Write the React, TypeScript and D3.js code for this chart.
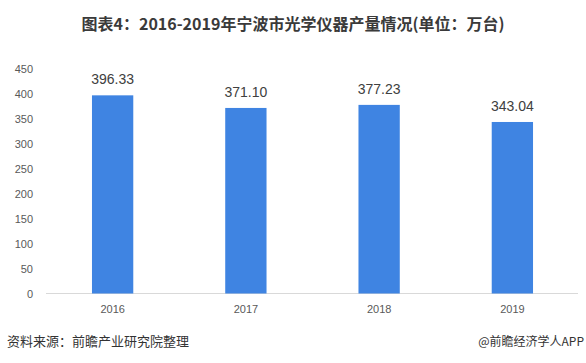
import React, { useEffect, useRef } from "react";
import * as d3 from "d3";

const years = ["2016", "2017", "2018", "2019"];
const output = [396.33, 371.1, 377.23, 343.04];
const yTicks = [0, 50, 100, 150, 200, 250, 300, 350, 400, 450];

const title = "图表4：2016-2019年宁波市光学仪器产量情况(单位：万台)";
const source = "资料来源：前瞻产业研究院整理";
const brand = "@前瞻经济学人APP";

const W = 586;
const H = 363;

const App = () => {
  const svgRef = useRef<SVGSVGElement>(null);

  useEffect(() => {
    const svg = d3.select(svgRef.current);
    svg.selectAll("*").remove();

    const font = "'Liberation Sans', 'Noto Sans CJK SC', sans-serif";

    const x = d3.scaleBand<string>()
      .domain(years)
      .range([46, 579])
      .paddingInner(0.69)
      .paddingOuter(0.345);

    const y = d3.scaleLinear().domain([0, 450]).range([293.5, 68.5]);

    // title
    svg.append("text")
      .attr("x", W / 2)
      .attr("y", 30)
      .attr("text-anchor", "middle")
      .attr("font-family", "'Noto Sans CJK SC', sans-serif")
      .attr("font-weight", "bold")
      .attr("font-size", 16)
      .attr("fill", "#3a3a3a")
      .text(title);

    // y axis labels
    const yAxis = svg.append("g")
      .attr("transform", "translate(33,0)")
      .call(d3.axisLeft(y).tickValues(yTicks).tickSize(0).tickPadding(0));
    yAxis.select(".domain").remove();
    yAxis.selectAll("text")
      .attr("font-family", font)
      .attr("font-size", 11)
      .attr("fill", "#595959");

    // baseline
    svg.append("line")
      .attr("x1", 46)
      .attr("x2", 578)
      .attr("y1", y(0))
      .attr("y2", y(0))
      .attr("stroke", "#d9d9d9")
      .attr("stroke-width", 1);

    // x axis labels
    const xAxis = svg.append("g")
      .attr("transform", `translate(0,${y(0)})`)
      .call(d3.axisBottom(x).tickSize(0).tickPadding(12));
    xAxis.select(".domain").remove();
    xAxis.selectAll("text")
      .attr("font-family", font)
      .attr("font-size", 11)
      .attr("fill", "#595959");

    // bars
    svg.selectAll(".bar")
      .data(output)
      .enter().append("rect")
      .attr("class", "bar")
      .attr("x", (d, i) => x(years[i]) as number)
      .attr("width", x.bandwidth())
      .attr("y", d => y(d))
      .attr("height", d => y(0) - y(d))
      .attr("fill", "#3f84e2");

    // value labels
    svg.selectAll(".val")
      .data(output)
      .enter().append("text")
      .attr("class", "val")
      .attr("x", (d, i) => (x(years[i]) as number) + x.bandwidth() / 2)
      .attr("y", d => y(d) - 11)
      .attr("text-anchor", "middle")
      .attr("font-family", font)
      .attr("font-size", 14)
      .attr("fill", "#404040")
      .text(d => d.toFixed(2));

    // footer
    svg.append("text")
      .attr("x", 7)
      .attr("y", 346)
      .attr("font-family", "'Noto Sans CJK SC', sans-serif")
      .attr("font-size", 13)
      .attr("fill", "#333")
      .text(source);

    svg.append("text")
      .attr("x", 584)
      .attr("y", 346)
      .attr("text-anchor", "end")
      .attr("font-family", "'Noto Sans CJK SC', sans-serif")
      .attr("font-size", 12)
      .attr("fill", "#333")
      .text(brand);
  }, []);

  return (
    <svg
      ref={svgRef}
      width={W}
      height={H}
      style={{ position: "absolute", left: 0, top: 0, background: "#fff" }}
    />
  );
};

export default App;
